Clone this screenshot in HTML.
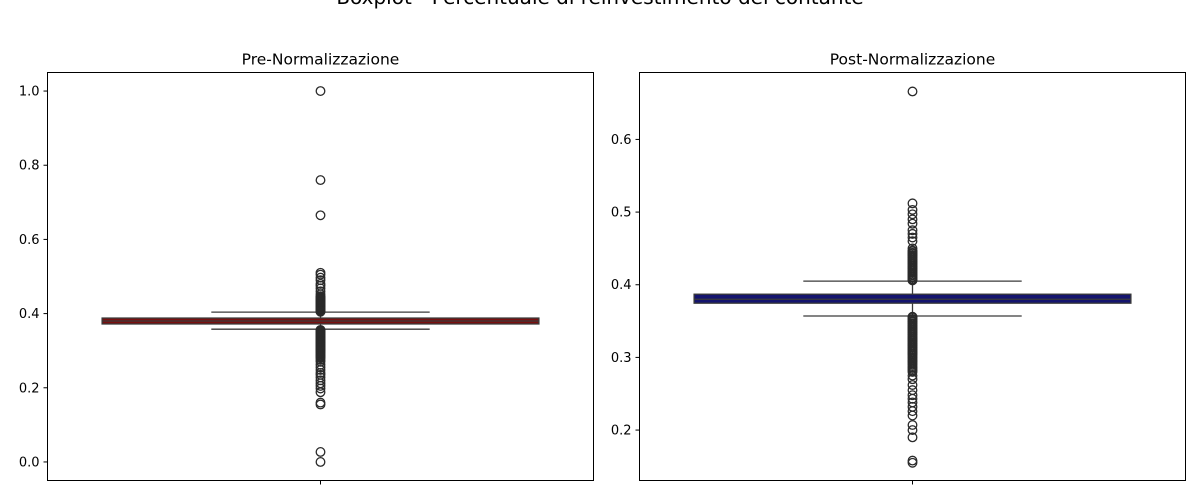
<!DOCTYPE html>
<html><head><meta charset="utf-8"><style>
body{margin:0;background:#fff;}
svg{display:block;font-family:"DejaVu Sans","Liberation Sans",sans-serif;}
</style></head><body>
<svg id="chart" width="1200" height="500" viewBox="0 0 1200 500">
<text x="600" y="4" text-anchor="middle" font-size="20" fill="#000">Boxplot - Percentuale di reinvestimento del contante</text>
<g id="left"></g>
<g id="right"></g>
</svg>
<script>
const panelTitles=["Pre-Normalizzazione","Post-Normalizzazione"];
const preStats=[0.358,0.372,0.380,0.388,0.404]; // whiskerLow,q1,median,q3,whiskerHigh
const postStats=[0.357,0.3746,0.380,0.387,0.405];
const preOutliers=[1.0,0.76,0.665,0.51,0.505,0.497,0.49,0.48,0.475,0.468,0.46,0.452,0.447,0.445,0.443,0.441,0.44,0.438,0.437,0.435,0.434,0.432,0.431,0.429,0.428,0.426,0.425,0.423,0.422,0.42,0.419,0.417,0.416,0.414,0.413,0.411,0.41,0.408,0.407,0.406,0.405,
0.356,0.355,0.353,0.352,0.35,0.349,0.347,0.346,0.344,0.343,0.341,0.34,0.338,0.337,0.335,0.334,0.332,0.331,0.329,0.328,0.326,0.325,0.323,0.322,0.32,0.319,0.317,0.316,0.314,0.313,0.311,0.31,0.308,0.307,0.305,0.304,0.302,0.3,0.298,0.295,0.293,0.29,0.287,0.285,0.282,0.28,0.275,0.27,0.262,0.255,0.248,0.24,0.235,0.228,0.22,0.212,0.205,0.198,0.188,0.16,0.155,0.027,0.0];
const postOutliers=[0.666,0.512,0.503,0.497,0.49,0.484,0.475,0.47,0.465,0.46,0.45,0.447,0.446,0.444,0.443,0.441,0.44,0.438,0.437,0.435,0.434,0.432,0.431,0.429,0.428,0.426,0.425,0.423,0.422,0.42,0.419,0.417,0.416,0.414,0.413,0.411,0.41,0.408,0.407,0.406,
0.356,0.355,0.353,0.352,0.35,0.349,0.347,0.346,0.344,0.343,0.341,0.34,0.338,0.337,0.335,0.334,0.332,0.331,0.329,0.328,0.326,0.325,0.323,0.322,0.32,0.319,0.317,0.316,0.314,0.313,0.311,0.31,0.308,0.307,0.305,0.304,0.302,0.3,0.298,0.296,0.294,0.292,0.29,0.288,0.286,0.284,0.282,0.28,0.275,0.27,0.262,0.255,0.248,0.243,0.238,0.232,0.226,0.22,0.207,0.2,0.19,0.158,0.155];
const preTicks=[0.0,0.2,0.4,0.6,0.8,1.0];
const postTicks=[0.2,0.3,0.4,0.5,0.6];
const NS="http://www.w3.org/2000/svg";
function mk(parent,tag,attrs){const e=document.createElementNS(NS,tag);for(const k in attrs)e.setAttribute(k,attrs[k]);parent.appendChild(e);return e;}
function panel(g,x0,x1,y0,y1,dmin,dmax,stats,outs,ticks,color,title){
  const y=v=>y1-(v-dmin)/(dmax-dmin)*(y1-y0);
  const cx=(x0+x1)/2, w=x1-x0;
  const t=mk(g,'text',{x:cx,y:y0-8,'text-anchor':'middle','font-size':'15.5',fill:'#000'});t.textContent=title;
  
  
  ticks.forEach(v=>{
    const l=mk(g,'line',{x1:x0-4,x2:x0,y1:y(v),y2:y(v),stroke:'#000','stroke-width':1});
    
    
    const tx=mk(g,'text',{x:x0-8,y:y(v)+4.5,'text-anchor':'end','font-size':'13',fill:'#000'});tx.textContent=v.toFixed(1);
    
    
  });
  const xt=mk(g,'line',{x1:cx,x2:cx,y1:y1,y2:y1+4,stroke:'#000'});
  
  
  const wl=mk(g,'line',{x1:cx,x2:cx,y1:y(stats[0]),y2:y(stats[4]),stroke:'#3a3a3a','stroke-width':1.3});
  
  
  [stats[0],stats[4]].forEach(v=>{
    const c=mk(g,'line',{x1:cx-w*0.2,x2:cx+w*0.2,y1:y(v),y2:y(v),stroke:'#3a3a3a','stroke-width':1.3});
    
    
  });
  const b=mk(g,'rect',{x:cx-w*0.4,y:y(stats[3]),width:w*0.8,height:y(stats[1])-y(stats[3]),fill:color,stroke:'#3a3a3a','stroke-width':1.3});
  
  
  const m=mk(g,'line',{x1:cx-w*0.4,x2:cx+w*0.4,y1:y(stats[2]),y2:y(stats[2]),stroke:'#3a3a3a','stroke-width':1.3});
  
  
  outs.forEach(v=>{
    const o=mk(g,'circle',{cx:cx,cy:y(v),r:4.3,fill:'none',stroke:'#2a2a2a','stroke-width':1.3});
    
    
  });
  const f=mk(g,'rect',{x:x0,y:y0,width:w,height:y1-y0,fill:'none',stroke:'#000','stroke-width':1});
  
  
}
panel(document.getElementById('left'),47.5,593.5,72.5,480.5,-0.05,1.05,preStats,preOutliers,preTicks,'#7a0f0f',panelTitles[0]);
panel(document.getElementById('right'),639.5,1185.5,72.5,480.5,0.1306,0.6921,postStats,postOutliers,postTicks,'#14146e',panelTitles[1]);
</script>
</body></html>
